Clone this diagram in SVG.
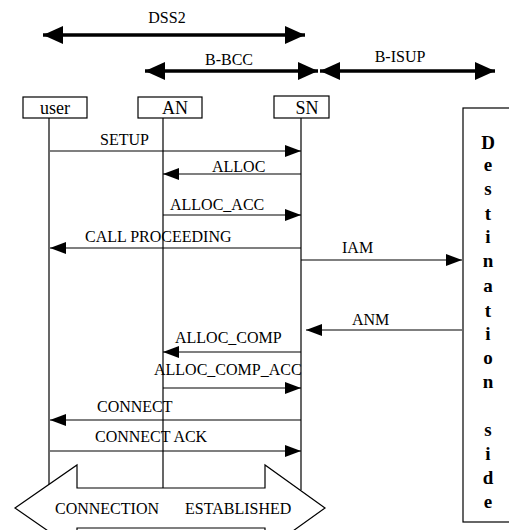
<svg xmlns="http://www.w3.org/2000/svg" width="509" height="530" viewBox="0 0 509 530">
<style>
text{font-family:"Liberation Serif","Times New Roman",serif;fill:#000}
.lbl{font-size:16px}
.hdr{font-size:16px}
.box{fill:#fff;stroke:#000;stroke-width:1.2}
.bt{font-size:18px;text-anchor:middle}
.life{stroke:#000;stroke-width:1.2;fill:none}
.msg{stroke:#000;stroke-width:1.2;fill:none;marker-end:url(#ma)}
.big{stroke:#000;stroke-width:3.5;fill:none;marker-start:url(#hs);marker-end:url(#he)}
.dl{font-size:19px;font-weight:bold;text-anchor:middle}
</style>
<defs>
<marker id="ma" markerUnits="userSpaceOnUse" markerWidth="16" markerHeight="12" refX="16" refY="6" orient="auto"><path d="M0,0 L16,6 L0,12 z" fill="#000"/></marker>
<marker id="he" markerUnits="userSpaceOnUse" markerWidth="20" markerHeight="18" refX="20" refY="9" orient="auto"><path d="M0,0 L20,9 L0,18 z" fill="#000"/></marker>
<marker id="hs" markerUnits="userSpaceOnUse" markerWidth="20" markerHeight="18" refX="20" refY="9" orient="auto-start-reverse"><path d="M0,0 L20,9 L0,18 z" fill="#000"/></marker>
</defs>
<rect width="509" height="530" fill="#fff"/>
<g id="protocols">
<line class="big" x1="43" y1="35" x2="305" y2="35"/>
<text class="hdr" x="167" y="23" text-anchor="middle">DSS2</text>
<line class="big" x1="145" y1="71" x2="318" y2="71"/>
<text class="hdr" x="229" y="65" text-anchor="middle">B-BCC</text>
<line class="big" x1="320" y1="71" x2="495" y2="71"/>
<text class="hdr" x="400" y="62" text-anchor="middle">B-ISUP</text>
</g>
<g id="user">
<rect class="box" x="23" y="97" width="64" height="21"/>
<text class="bt" x="55" y="114">user</text>
<line class="life" x1="49" y1="118" x2="49" y2="487"/>
</g>
<g id="AN">
<rect class="box" x="138" y="97" width="64" height="21"/>
<text class="bt" x="175" y="114">AN</text>
<line class="life" x1="163" y1="118" x2="163" y2="488"/>
</g>
<g id="SN">
<rect class="box" x="274" y="96" width="55" height="22"/>
<text class="bt" x="307" y="114">SN</text>
<line class="life" x1="301" y1="118" x2="301" y2="490"/>
</g>
<g id="destination">
<rect class="box" x="463" y="108" width="60" height="414"/>
<text class="dl" x="488" y="149">D</text>
<text class="dl" x="488" y="171">e</text>
<text class="dl" x="488" y="195">s</text>
<text class="dl" x="488" y="220">t</text>
<text class="dl" x="488" y="243">i</text>
<text class="dl" x="488" y="267">n</text>
<text class="dl" x="488" y="292">a</text>
<text class="dl" x="488" y="317">t</text>
<text class="dl" x="488" y="340">i</text>
<text class="dl" x="488" y="364">o</text>
<text class="dl" x="488" y="388">n</text>
<text class="dl" x="488" y="436">s</text>
<text class="dl" x="488" y="460">i</text>
<text class="dl" x="488" y="484">d</text>
<text class="dl" x="488" y="508">e</text>
</g>
<g id="connectors">
<line class="msg" x1="50" y1="151" x2="301" y2="151"/>
<line class="msg" x1="301" y1="174" x2="163" y2="174"/>
<line class="msg" x1="163" y1="215" x2="301" y2="215"/>
<line class="msg" x1="301" y1="248" x2="50" y2="248"/>
<line class="msg" x1="301" y1="260" x2="462" y2="260"/>
<line class="msg" x1="462" y1="330" x2="306" y2="330"/>
<line class="msg" x1="301" y1="352" x2="163" y2="352"/>
<line class="msg" x1="163" y1="388" x2="301" y2="388"/>
<line class="msg" x1="301" y1="420" x2="50" y2="420"/>
<line class="msg" x1="50" y1="451" x2="301" y2="451"/>
<text class="lbl" x="100" y="145">SETUP</text>
<text class="lbl" x="212" y="172">ALLOC</text>
<text class="lbl" x="170" y="210">ALLOC_ACC</text>
<text class="lbl" x="85" y="242">CALL PROCEEDING</text>
<text class="lbl" x="342" y="253">IAM</text>
<text class="lbl" x="352" y="325">ANM</text>
<text class="lbl" x="175" y="343">ALLOC_COMP</text>
<text class="lbl" x="154" y="375">ALLOC_COMP_ACC</text>
<text class="lbl" x="97" y="412">CONNECT</text>
<text class="lbl" x="95" y="442">CONNECT ACK</text>
</g>
<g id="established">
<polygon points="15,508 77,465 77,488 265,488 265,465 325,508 265,551 265,528 77,528 77,551" fill="#fff" stroke="#000" stroke-width="1.2"/>
<text class="lbl" x="55" y="514">CONNECTION</text>
<text class="lbl" x="185" y="514">ESTABLISHED</text>
</g>
</svg>
